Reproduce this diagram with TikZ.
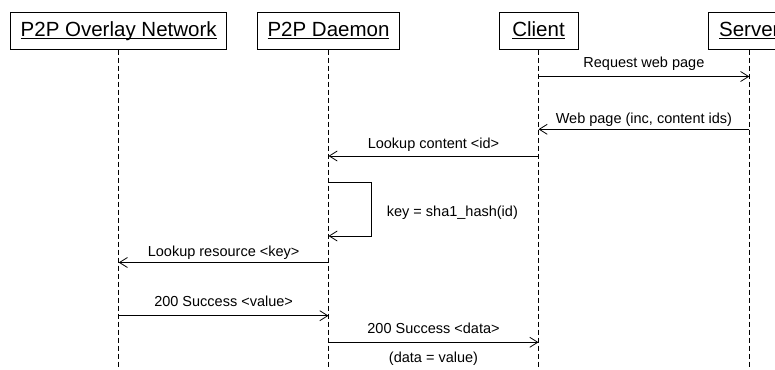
\documentclass[tikz,border=0pt]{standalone}
\usepackage{fontspec}
\setmainfont{Liberation Sans}
\usetikzlibrary{arrows.meta, positioning}
\tikzset{%
	actor/.style={
		draw,
		minimum height=37pt,
		inner sep=0pt,
		text height=14.7pt,
		text depth=2.9pt,
		font=\fontsize{20.5}{24}\selectfont
	},
	lifeline/.style={
		dash pattern=on 5pt off 3pt
	},
	msg/.style={
		-{Straight Barb[length=8pt,width=10pt]}
	},
	msg label/.style={
		font=\fontsize{14.5}{17}\selectfont,
		text height=11pt,
		text depth=3pt,
		inner sep=2pt
	},
}

\begin{document}
\begin{tikzpicture}[
				x=1pt, y=-1pt,
				line width=0.8pt
				]
				\useasboundingbox (0,0) rectangle (775,369);
				\node[actor, minimum width=216pt] (net) at (118.7,30.8) {\underline{\smash{P2P Overlay Network}}};
				\node[actor, minimum width=142pt] (daemon) at (328.5,30.8) {\underline{\smash{P2P Daemon}}};
				\node[actor, minimum width=79pt] (client) at (538.5,30.8) {\underline{\smash{Client}}};
				\node[actor, minimum width=82pt] (server) at (749.3,30.8) {\underline{\smash{Server}}};
				\coordinate (bottom) at (0,369);
				\foreach \who in {net, daemon, client, server}
					\draw[lifeline] (\who) -- (\who |- bottom);
				
				\coordinate (m1) at (0,76.5);
				\coordinate (m2) at (0,129.3);
				\coordinate (m3) at (0,156);
				\coordinate (m4) at (0,182);
				\coordinate (m5) at (0,236);
				\coordinate (m6) at (0,262.5);
				\coordinate (m7) at (0,315.7);
				\coordinate (m8) at (0,342.3);
				
				\draw[msg] (client |- m1) -- (server |- m1)
					node[msg label, midway, above=4pt] {Request web page};
				\draw[msg] (server |- m2) -- (client |- m2)
					node[msg label, midway, above=0.5pt] {Web page (inc, content ids)};
				\draw[msg] (client |- m3) -- (daemon |- m3)
					node[msg label, midway, above=2pt] {Lookup content <id>};
				\draw[msg] (daemon |- m4) -- ++(42.5,0) coordinate (hash) |- (daemon |- m5);
				\node[msg label, right=13.5pt of hash, yshift=-30pt] (hashing) {key = sha1\_hash(id)};
				\draw[msg] (daemon |- m6) -- (net |- m6)
					node[msg label, midway, above=0.8pt] {Lookup resource <key>};
				\draw[msg] (net |- m7) -- (daemon |- m7)
					node[msg label, midway, above=3.4pt] {200 Success <value>};
				\draw[msg] (daemon |- m8) -- (client |- m8)
					node[msg label, midway, above=3.3pt] {200 Success <data>}
					node[msg label, midway, below=6.5pt] {(data = value)};
				
			\end{tikzpicture}
\end{document}
